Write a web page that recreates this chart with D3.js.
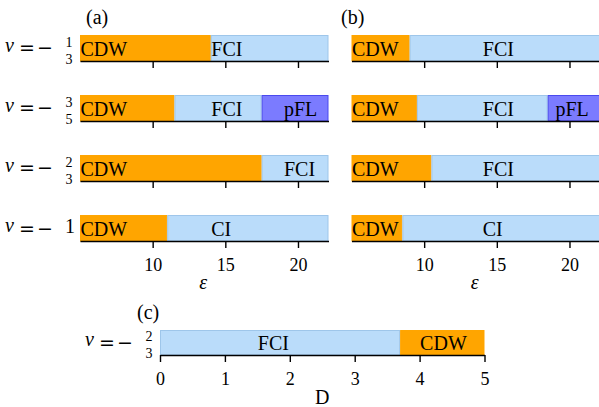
<!DOCTYPE html>
<html>
<head>
<meta charset="utf-8">
<script src="https://cdn.jsdelivr.net/npm/d3@7"></script>
<style>
  body { margin: 0; background: #fff; }
</style>
</head>
<body>
<div id="chart"></div>
<script>
// filling factors nu = -num/den, top row first
const fillNum = ["1", "3", "2", "1"];
const fillDen = ["3", "5", "3", ""];

// panel (a): phases per row, phase boundaries in epsilon, label anchors
const phasesA = [["CDW", "FCI"], ["CDW", "FCI", "pFL"], ["CDW", "FCI"], ["CDW", "CI"]];
const edgesA = [[14], [11.5, 17.5], [17.5], [11]];
const labelsA = [[5, 14], [5, 14, 19], [5, 19], [5, 14]];

// panel (b)
const phasesB = [["CDW", "FCI"], ["CDW", "FCI", "pFL"], ["CDW", "FCI"], ["CDW", "CI"]];
const edgesB = [[9], [9.5, 18.5], [10.5], [8.5]];
const labelsB = [[5, 14], [5, 14, 19], [5, 14], [5, 14]];

const epsDomain = [5, 22.1];
const epsTicks = [10, 15, 20];

// panel (c): nu = -2/3 versus displacement field D
const phasesC = ["FCI", "CDW"];
const edgesC = [3.7];
const labelsC = [1.5, 4];
const dDomain = [0, 5];
const dTicks = [0, 1, 2, 3, 4, 5];

const fill = { CDW: "#ffa500", FCI: "#badcfa", CI: "#badcfa", pFL: "#7b7bff" };
const edge = { CDW: "#ffa500", FCI: "#9ec6ea", CI: "#9ec6ea", pFL: "#4a4aee" };

const serif = "Liberation Serif, serif";
const width = 599, height = 407;
const svg = d3.select("#chart").append("svg")
  .attr("width", width)
  .attr("height", height)
  .attr("font-family", serif)
  .style("display", "block");

function nuLabel(g, left, axisY, num, den) {
  const lab = g.append("g").attr("transform", `translate(${left},${axisY})`);
  lab.append("text")
    .attr("x", -75).attr("y", -9)
    .attr("font-size", 20)
    .attr("font-style", "italic")
    .text("ν");
  // wide math symbols
  lab.append("text").attr("x", -53).attr("y", -6.5)
    .attr("text-anchor", "middle").attr("font-family", "DejaVu Sans")
    .attr("font-size", 19).text("=");
  lab.append("text").attr("x", -35).attr("y", -6.5)
    .attr("text-anchor", "middle").attr("font-family", "DejaVu Sans")
    .attr("font-size", 19).text("−");
  if (den) {
    lab.append("text").attr("x", -11).attr("y", -14)
      .attr("text-anchor", "middle").attr("font-size", 14).text(num);
    lab.append("text").attr("x", -11).attr("y", 3)
      .attr("text-anchor", "middle").attr("font-size", 14).text(den);
  } else {
    lab.append("text").attr("x", -10).attr("y", -8)
      .attr("text-anchor", "middle").attr("font-size", 20).text(num);
  }
}

function drawRow(g, x, top, bottom, phases, edges, labels, ticks, showLabels) {
  const dom = x.domain();
  const bounds = [dom[0]].concat(edges, [dom[1]]);
  const segs = phases.map((p, i) => ({ p, x0: bounds[i], x1: bounds[i + 1] }));

  g.selectAll(null).data(segs).enter().append("rect")
    .attr("x", d => x(d.x0) + 0.5)
    .attr("y", top + 0.5)
    .attr("width", d => x(d.x1) - x(d.x0) - 1)
    .attr("height", bottom - top - 0.5)
    .attr("fill", d => fill[d.p])
    .attr("stroke", d => edge[d.p])
    .attr("stroke-width", 1);

  g.selectAll(null).data(segs).enter().append("text")
    .attr("x", (d, i) => x(labels[i]) + 0.5)
    .attr("y", bottom - 5)
    .attr("font-size", 20)
    .attr("fill", "#000")
    .text(d => d.p);

  const axis = d3.axisBottom(x)
    .tickValues(ticks)
    .tickSize(7)
    .tickSizeOuter(0)
    .tickPadding(10)
    .tickFormat(showLabels ? d3.format("d") : () => "");

  const ax = g.append("g")
    .attr("transform", `translate(0,${bottom})`)
    .call(axis)
    .attr("font-family", serif)
    .attr("font-size", 18);
  ax.select(".domain").attr("stroke", "#000").attr("stroke-width", 1.6);
  ax.selectAll(".tick line").attr("stroke", "#000").attr("stroke-width", 1.4);
  ax.selectAll(".tick text").attr("fill", "#000");
}

function drawPanel(left, right, phases, edges, labels, tag, tagX) {
  const x = d3.scaleLinear().domain(epsDomain).range([left, right]);
  const y = d3.scaleBand().domain(d3.range(4)).range([35, 241]).paddingInner(0.567);
  const g = svg.append("g");
  phases.forEach((ph, i) => {
    const top = y(i), bottom = y(i) + y.bandwidth();
    drawRow(g, x, top, bottom, ph, edges[i], labels[i], epsTicks, i === 3);
  });
  g.append("text")
    .attr("x", (left + right) / 2 - 1)
    .attr("y", y(3) + y.bandwidth() + 48)
    .attr("text-anchor", "middle")
    .attr("font-size", 20)
    .attr("font-style", "italic")
    .text("ε");
  g.append("text").attr("x", tagX).attr("y", 24).attr("font-size", 20).text(tag);
  return y;
}

const yA = drawPanel(80, 328.5, phasesA, edgesA, labelsA, "(a)", 86);
drawPanel(351.5, 600, phasesB, edgesB, labelsB, "(b)", 341);

fillNum.forEach((n, i) => nuLabel(svg, 80, yA(i) + yA.bandwidth(), n, fillDen[i]));

// panel (c)
const xC = d3.scaleLinear().domain(dDomain).range([160, 484.5]);
const yC = d3.scaleBand().domain([0]).range([330, 355]);
const gC = svg.append("g");
drawRow(gC, xC, yC(0), yC(0) + yC.bandwidth(), phasesC, edgesC, labelsC, dTicks, true);
nuLabel(svg, 160, yC(0) + yC.bandwidth(), "2", "3");
gC.append("text")
  .attr("x", (xC.range()[0] + xC.range()[1]) / 2)
  .attr("y", yC(0) + yC.bandwidth() + 49)
  .attr("text-anchor", "middle")
  .attr("font-size", 20)
  .text("D");
gC.append("text").attr("x", 137).attr("y", 319).attr("font-size", 20).text("(c)");
</script>
</body>
</html>
